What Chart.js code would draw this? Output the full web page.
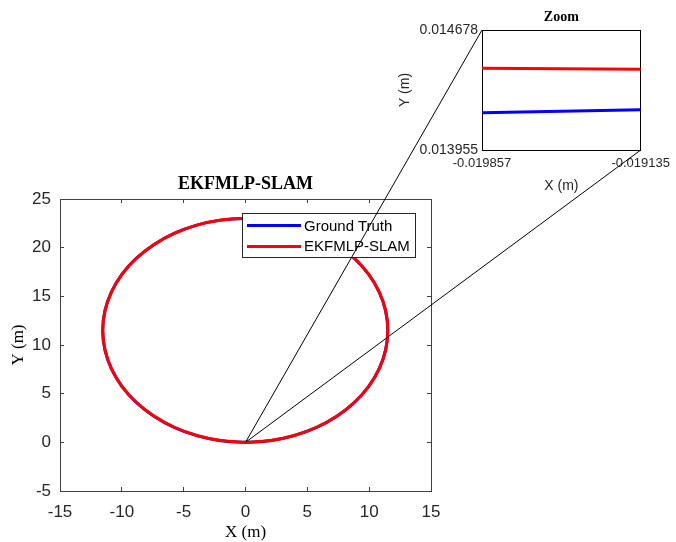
<!DOCTYPE html>
<html><head><meta charset="utf-8">
<script src="https://cdn.jsdelivr.net/npm/chart.js@4.4.1/dist/chart.umd.min.js"></script>
<style>
html,body{margin:0;padding:0;background:#fff;}
#wrap{position:relative;width:676px;height:542px;overflow:hidden;background:#fff;}
canvas{position:absolute;left:0;top:0;}
#legend{position:absolute;left:242px;top:213px;width:172px;height:43px;border:1px solid #262626;background:#fff;font-family:'Liberation Sans',Arial,sans-serif;font-size:15px;color:#000;}
.swatch{position:absolute;left:4px;width:54px;height:3px;}
.lbl{position:absolute;left:61px;white-space:nowrap;line-height:16px;}
</style></head>
<body><div id="wrap">
<canvas id="main" width="676" height="542"></canvas>
<div id="legend"></div>
<canvas id="inset" width="676" height="542"></canvas>
</div>
<script>
// ---- data ----
const seriesNames = ['Ground Truth', 'EKFMLP-SLAM'];
const seriesColors = ['#0000ff', '#ff0000'];

const gtX = [0, 2.00, 3.93, 5.75, 7.39, 8.81, 9.96, 10.81, 11.33, 11.50, 11.33, 10.81, 9.96, 8.81, 7.39, 5.75, 3.93, 2.00, 0, -2.00, -3.94, -5.77, -7.41, -8.84, -10.00, -10.85, -11.37, -11.55, -11.37, -10.85, -10.00, -8.84, -7.41, -5.77, -3.94, -2.00, 0];
const gtY = [0, 0.17, 0.69, 1.54, 2.69, 4.11, 5.75, 7.57, 9.50, 11.50, 13.50, 15.43, 17.25, 18.89, 20.31, 21.46, 22.31, 22.83, 23.00, 22.83, 22.31, 21.46, 20.31, 18.89, 17.25, 15.43, 13.50, 11.50, 9.50, 7.57, 5.75, 4.11, 2.69, 1.54, 0.69, 0.17, 0];

const estX = [0, 2.01, 3.94, 5.76, 7.40, 8.82, 9.97, 10.82, 11.34, 11.51, 11.34, 10.82, 9.97, 8.82, 7.40, 5.76, 3.94, 2.01, 0.01, -1.99, -3.93, -5.76, -7.40, -8.83, -9.99, -10.84, -11.36, -11.54, -11.36, -10.84, -9.99, -8.83, -7.40, -5.76, -3.93, -1.99, 0];
const estY = [0, 0.18, 0.70, 1.55, 2.70, 4.12, 5.76, 7.58, 9.51, 11.51, 13.51, 15.44, 17.26, 18.90, 20.32, 21.47, 22.32, 22.84, 23.01, 22.84, 22.32, 21.47, 20.32, 18.90, 17.26, 15.44, 13.51, 11.51, 9.51, 7.58, 5.76, 4.12, 2.70, 1.55, 0.70, 0.18, 0];

const xTicks = [-15, -10, -5, 0, 5, 10, 15];
const yTicks = [-5, 0, 5, 10, 15, 20, 25];

// zoomed region
const zoomOrigin = {x: 0, y: 0};
const zoomX = [-0.019857, -0.019135];
const zoomGtY = [0.014180, 0.014197];
const zoomEstY = [0.014448, 0.014441];
const zoomXTicks = [-0.019857, -0.019135];
const zoomYTicks = [0.013955, 0.014678];

// ---- helpers ----
const toPts = (xs, ys) => xs.map((x, i) => ({x: x, y: ys[i]}));
const SANS = "'Liberation Sans', Arial, sans-serif";
const SERIF = "'Liberation Serif', 'Times New Roman', serif";
const AXC = '#404040';
const TXT = '#262626';

function hiddenAxis(position, min, max, ticks, tl, color) {
  return {
    type: 'linear', position: position, min: min, max: max, display: true,
    afterBuildTicks: s => { s.ticks = ticks.map(v => ({value: v})); },
    afterFit: s => { if (position === 'top' || position === 'bottom') s.height = 0; else s.width = 0; },
    ticks: {display: false},
    grid: {display: tl !== 0, drawOnChartArea: false, drawTicks: tl !== 0, tickLength: tl, color: color, tickColor: color},
    border: {display: true, color: color, width: 1}
  };
}

// ---- main chart ----
const mainChart = new Chart(document.getElementById('main'), {
  type: 'scatter',
  data: {
    datasets: [
      {label: seriesNames[0], data: toPts(gtX, gtY), showLine: true, borderColor: seriesColors[0], backgroundColor: seriesColors[0], borderWidth: 3, pointRadius: 0, tension: 0.33, order: 1},
      {label: seriesNames[1], data: toPts(estX, estY), showLine: true, borderColor: seriesColors[1], backgroundColor: seriesColors[1], borderWidth: 3, pointRadius: 0, tension: 0.33, order: 0}
    ]
  },
  options: {
    responsive: false, animation: false, devicePixelRatio: 1,
    layout: {padding: {left: 0, top: 0, right: 245, bottom: 0}},
    plugins: {
      legend: {display: false}, tooltip: {enabled: false},
      title: {display: true, text: 'EKFMLP-SLAM', fullSize: false, color: '#000',
        font: {family: SERIF, size: 18, weight: 'bold', lineHeight: 1.2}, padding: {top: 174, bottom: 3.4}}
    },
    scales: {
      x: {
        type: 'linear', position: 'bottom', min: xTicks[0], max: xTicks[xTicks.length - 1],
        afterBuildTicks: s => { s.ticks = xTicks.map(v => ({value: v})); },
        afterFit: s => { s.height = 51; },
        ticks: {autoSkip: false, maxRotation: 0, padding: 15, color: TXT, font: {family: SANS, size: 17}, callback: v => String(v)},
        grid: {drawOnChartArea: false, tickLength: -4, color: AXC, tickColor: AXC},
        border: {display: true, color: AXC, width: 1},
        title: {display: true, text: 'X (m)', color: '#000', font: {family: SERIF, size: 17, lineHeight: 1.1}, padding: {top: 0, bottom: 0}}
      },
      y: {
        type: 'linear', position: 'left', min: yTicks[0], max: yTicks[yTicks.length - 1],
        afterBuildTicks: s => { s.ticks = yTicks.map(v => ({value: v})); },
        afterFit: s => { s.width = 60; },
        ticks: {autoSkip: false, padding: 13, color: TXT, font: {family: SANS, size: 17}, callback: v => String(v)},
        grid: {drawOnChartArea: false, tickLength: -4, color: AXC, tickColor: AXC},
        border: {display: true, color: AXC, width: 1},
        title: {display: true, text: 'Y (m)', color: '#000', font: {family: SERIF, size: 17, lineHeight: 1.2}, padding: {top: 8, bottom: 0}}
      },
      x2: hiddenAxis('top', xTicks[0], xTicks[xTicks.length - 1], xTicks, -4, AXC),
      y2: hiddenAxis('right', yTicks[0], yTicks[yTicks.length - 1], yTicks, -4, AXC)
    }
  }
});

// ---- legend (from datasets) ----
(function buildLegend() {
  const lg = document.getElementById('legend');
  const rowsCenter = [11.5, 32];
  mainChart.data.datasets.forEach((ds, i) => {
    const sw = document.createElement('div');
    sw.className = 'swatch';
    sw.style.background = ds.borderColor;
    sw.style.top = (rowsCenter[i] - 1.5) + 'px';
    const lb = document.createElement('div');
    lb.className = 'lbl';
    lb.textContent = ds.label;
    lb.style.top = (rowsCenter[i] - 8) + 'px';
    lg.appendChild(sw); lg.appendChild(lb);
  });
})();

// ---- connectors ----
const connectorPlugin = {
  id: 'connectors',
  afterDraw(chart) {
    const ox = mainChart.scales.x.getPixelForValue(zoomOrigin.x);
    const oy = mainChart.scales.y.getPixelForValue(zoomOrigin.y);
    const a = chart.chartArea;
    const ctx = chart.ctx;
    ctx.save();
    ctx.strokeStyle = '#000';
    ctx.lineWidth = 1;
    ctx.beginPath();
    ctx.moveTo(ox, oy); ctx.lineTo(a.left, a.top);
    ctx.moveTo(ox, oy); ctx.lineTo(a.right, a.bottom);
    ctx.stroke();
    ctx.restore();
  }
};

// ---- inset chart ----
const insetChart = new Chart(document.getElementById('inset'), {
  type: 'scatter',
  data: {
    datasets: [
      {label: seriesNames[0], data: toPts(zoomX, zoomGtY), showLine: true, borderColor: seriesColors[0], backgroundColor: seriesColors[0], borderWidth: 3, pointRadius: 0, order: 1},
      {label: seriesNames[1], data: toPts(zoomX, zoomEstY), showLine: true, borderColor: seriesColors[1], backgroundColor: seriesColors[1], borderWidth: 3, pointRadius: 0, order: 0}
    ]
  },
  options: {
    responsive: false, animation: false, devicePixelRatio: 1,
    layout: {padding: {left: 390, top: 0, right: 34, bottom: 342}},
    plugins: {
      legend: {display: false}, tooltip: {enabled: false},
      title: {display: true, text: 'Zoom', fullSize: false, color: '#000',
        font: {family: SERIF, size: 14, weight: 'bold', lineHeight: 1.2}, padding: {top: 8.6, bottom: 4.6}}
    },
    scales: {
      x: {
        type: 'linear', position: 'bottom', min: zoomXTicks[0], max: zoomXTicks[1],
        afterBuildTicks: s => { s.ticks = zoomXTicks.map(v => ({value: v})); },
        afterFit: s => { s.height = 50; },
        ticks: {autoSkip: false, maxRotation: 0, padding: 6, color: TXT, font: {family: SANS, size: 13}, callback: v => v.toFixed(6)},
        grid: {display: false, drawTicks: false},
        border: {display: true, color: '#000', width: 1},
        title: {display: true, text: 'X (m)', color: TXT, font: {family: SANS, size: 14, lineHeight: 1.2}, padding: {top: 0, bottom: 5.6}}
      },
      y: {
        type: 'linear', position: 'left', min: zoomYTicks[0], max: zoomYTicks[1],
        afterBuildTicks: s => { s.ticks = zoomYTicks.map(v => ({value: v})); },
        afterFit: s => { s.width = 92; },
        ticks: {autoSkip: false, padding: 4, color: TXT, font: {family: SANS, size: 14}, callback: v => v.toFixed(6)},
        grid: {display: false, drawTicks: false},
        border: {display: true, color: '#000', width: 1},
        title: {display: true, text: 'Y (m)', color: TXT, font: {family: SANS, size: 14, lineHeight: 1.2}, padding: {top: 6.6, bottom: 0}}
      },
      x2: hiddenAxis('top', zoomXTicks[0], zoomXTicks[1], zoomXTicks, 0, '#000'),
      y2: hiddenAxis('right', zoomYTicks[0], zoomYTicks[1], zoomYTicks, 0, '#000')
    }
  },
  plugins: [connectorPlugin]
});
</script>
</body></html>
